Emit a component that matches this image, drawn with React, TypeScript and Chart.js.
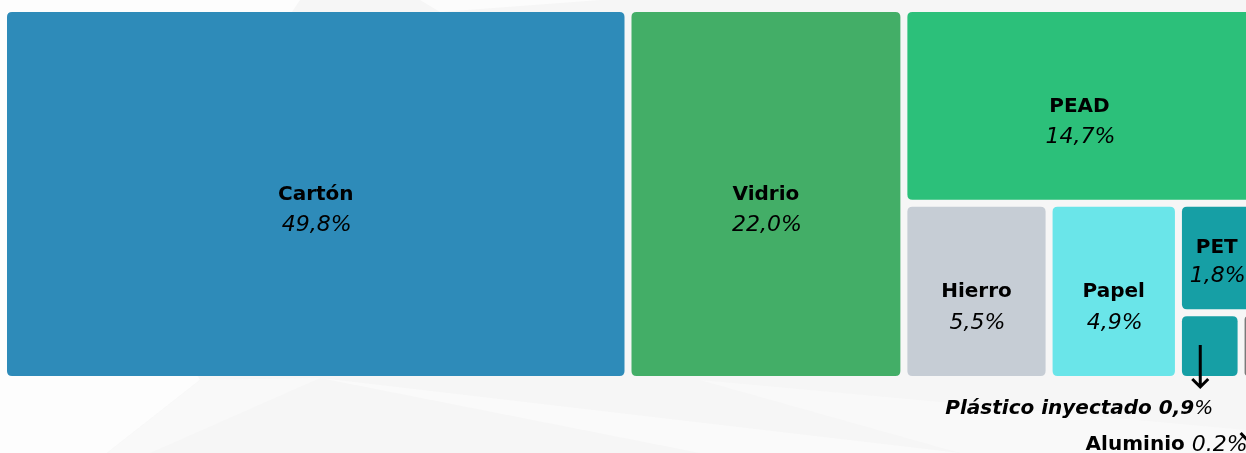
import React, { useEffect, useRef } from "react";
import { Chart, registerables } from "chart.js";

Chart.register(...registerables);

// ---- data ----
const categories = ["Cartón", "Vidrio", "PEAD", "Hierro", "Papel", "PET", "Plástico inyectado", "Aluminio"];
const shares = [49.8, 22.0, 14.7, 5.5, 4.9, 1.8, 0.9, 0.2];
const shareLabels = ["49,8%", "22,0%", "14,7%", "5,5%", "4,9%", "1,8%", "0,9%", "0.2%"];
const cellColors = ["#2e8bb9", "#43ae67", "#2cc07a", "#c6cdd5", "#6ae5e9", "#169fa5", "#169fa5", "#7a7a7a"];

type R = { x: number; y: number; w: number; h: number };

function squarify(values: number[], rect: R, kx: number, ky: number): R[] {
  const total = values.reduce((a, b) => a + b, 0);
  const areaScale = (rect.w * rect.h) / total;
  const out: R[] = [];
  let r = { ...rect };
  let i = 0;
  const worst = (row: number[], rr: R, horiz: boolean) => {
    const s = row.reduce((a, b) => a + b, 0) * areaScale;
    let m = 0;
    if (horiz) {
      const h = s / rr.w;
      for (const v of row) {
        const w = (v * areaScale) / h;
        const a = (w * kx) / (h * ky);
        m = Math.max(m, a, 1 / a);
      }
    } else {
      const w = s / rr.h;
      for (const v of row) {
        const h = (v * areaScale) / w;
        const a = (w * kx) / (h * ky);
        m = Math.max(m, a, 1 / a);
      }
    }
    return m;
  };
  while (i < values.length) {
    const horiz = r.w * kx < r.h * ky;
    let row = [values[i]];
    let best = worst(row, r, horiz);
    let j = i + 1;
    while (j < values.length) {
      const cand = row.concat(values[j]);
      const w2 = worst(cand, r, horiz);
      if (w2 > best) break;
      row = cand;
      best = w2;
      j++;
    }
    const rowArea = row.reduce((a, b) => a + b, 0) * areaScale;
    if (horiz) {
      const h = rowArea / r.w;
      let x = r.x;
      for (const v of row) {
        const w = (v * areaScale) / h;
        out.push({ x, y: r.y, w, h });
        x += w;
      }
      r = { x: r.x, y: r.y + h, w: r.w, h: r.h - h };
    } else {
      const w = rowArea / r.h;
      let y = r.y;
      for (const v of row) {
        const h = (v * areaScale) / w;
        out.push({ x: r.x, y, w, h });
        y += h;
      }
      r = { x: r.x + w, y: r.y, w: r.w - w, h: r.h };
    }
    i = j;
  }
  return out;
}

function roundRect(ctx: CanvasRenderingContext2D, x: number, y: number, w: number, h: number, rad: number) {
  const r = Math.min(rad, w / 2, h / 2);
  ctx.beginPath();
  ctx.moveTo(x + r, y);
  ctx.lineTo(x + w - r, y);
  ctx.quadraticCurveTo(x + w, y, x + w, y + r);
  ctx.lineTo(x + w, y + h - r);
  ctx.quadraticCurveTo(x + w, y + h, x + w - r, y + h);
  ctx.lineTo(x + r, y + h);
  ctx.quadraticCurveTo(x, y + h, x, y + h - r);
  ctx.lineTo(x, y + r);
  ctx.quadraticCurveTo(x, y, x + r, y);
  ctx.closePath();
}

const backgroundPlugin = {
  id: "bgShapes",
  beforeDraw(chart: any) {
    const { ctx, width, height } = chart;
    ctx.save();
    ctx.fillStyle = "#f6f6f6";
    ctx.fillRect(0, 0, width, height);
    const poly = (pts: number[][], c: string) => {
      ctx.beginPath();
      ctx.moveTo(pts[0][0], pts[0][1]);
      for (let k = 1; k < pts.length; k++) ctx.lineTo(pts[k][0], pts[k][1]);
      ctx.closePath();
      ctx.fillStyle = c;
      ctx.fill();
    };
    poly([[0, 0], [300, 0], [0, 453]], "#fdfdfd");
    poly([[0, 0], [200, 380], [107, 453], [0, 453]], "#fdfdfd");
    poly([[200, 380], [320, 378], [150, 453], [107, 453]], "#f9f9f9");
    poly([[320, 378], [960, 453], [700, 453]], "#fafafa");
    poly([[420, 0], [600, 0], [440, 12]], "#fcfcfc");
    poly([[700, 380], [1246, 430], [1246, 453], [960, 453]], "#f9f9f9");
    ctx.restore();
  },
};

const treemapPlugin = {
  id: "treemapCells",
  afterDatasetsDraw(chart: any) {
    const { ctx, chartArea } = chart;
    const xs = chart.scales.x;
    const ys = chart.scales.y;
    const kx = chartArea.width / (xs.max - xs.min);
    const ky = chartArea.height / (ys.max - ys.min);
    const rects = squarify(shares, { x: xs.min, y: ys.min, w: xs.max - xs.min, h: ys.max - ys.min }, kx, ky);
    const gap = 3.5;
    const px: { l: number; t: number; r: number; b: number }[] = [];
    ctx.save();
    rects.forEach((rc, i) => {
      const l = xs.getPixelForValue(rc.x) + gap;
      const r = xs.getPixelForValue(rc.x + rc.w) - gap;
      const t = ys.getPixelForValue(rc.y) + gap;
      const b = ys.getPixelForValue(rc.y + rc.h) - gap;
      px.push({ l, t, r, b });
      roundRect(ctx, l, t, r - l, b - t, 5);
      ctx.fillStyle = cellColors[i];
      ctx.fill();
    });
    // inside labels
    ctx.fillStyle = "#000";
    ctx.textAlign = "center";
    ctx.textBaseline = "middle";
    px.forEach((p, i) => {
      const w = p.r - p.l;
      const h = p.b - p.t;
      if (w < 60 || h < 80) return;
      const cx = (p.l + p.r) / 2;
      let cy = (p.t + p.b) / 2 + 0.5;
      let dv = 31;
      if (h < 110) {
        cy -= 11;
        dv = 29;
      }
      ctx.font = "bold 20px 'DejaVu Sans'";
      ctx.fillText(categories[i], cx, cy);
      ctx.font = "italic 22px 'DejaVu Sans'";
      ctx.fillText(shareLabels[i], cx + 1, cy + dv);
    });
    // annotation: Plástico inyectado
    const pi = px[6];
    if (pi) {
      const ax = (pi.l + pi.r) / 2 - 9.5;
      const y0 = pi.b - 31;
      const y1 = pi.b + 11;
      ctx.strokeStyle = "#000";
      ctx.lineWidth = 3;
      ctx.beginPath();
      ctx.moveTo(ax, y0);
      ctx.lineTo(ax, y1);
      ctx.moveTo(ax - 8, y1 - 8);
      ctx.lineTo(ax, y1);
      ctx.lineTo(ax + 8, y1 - 8);
      ctx.stroke();
      const ty = pi.b + 33;
      ctx.textAlign = "left";
      ctx.font = "italic 20px 'DejaVu Sans'";
      const wPct = ctx.measureText("%").width;
      ctx.font = "italic bold 20px 'DejaVu Sans'";
      const main = categories[6] + " " + shareLabels[6].replace("%", "");
      const wMain = ctx.measureText(main).width;
      const right = ax + 13;
      ctx.fillText(main, right - wPct - wMain, ty);
      ctx.font = "italic 20px 'DejaVu Sans'";
      ctx.fillText("%", right - wPct, ty);
    }
    // annotation: Aluminio
    const al = px[7];
    if (al) {
      const ty = al.b + 69;
      ctx.font = "italic 22px 'DejaVu Sans'";
      const wv = ctx.measureText(shareLabels[7]).width;
      ctx.font = "bold 20px 'DejaVu Sans'";
      const nm = categories[7] + " ";
      const wn = ctx.measureText(nm).width;
      const right = al.l + 3;
      ctx.textAlign = "left";
      ctx.fillText(nm, right - wv - wn, ty);
      ctx.font = "italic 22px 'DejaVu Sans'";
      ctx.fillText(shareLabels[7], right - wv, ty);
      ctx.lineWidth = 3;
      ctx.beginPath();
      ctx.moveTo(al.l - 4, al.b + 57);
      ctx.lineTo(al.l + 14, al.b + 76);
      ctx.stroke();
    }
    ctx.restore();
  },
};

export default function App() {
  const ref = useRef<HTMLCanvasElement | null>(null);
  useEffect(() => {
    if (!ref.current) return;
    const chart = new Chart(ref.current, {
      type: "scatter",
      data: {
        datasets: [
          {
            label: "Composición",
            data: shares.map((v, i) => ({ x: i, y: v })),
            pointRadius: 0,
            pointHoverRadius: 0,
          },
        ],
      },
      options: {
        animation: false,
        responsive: false,
        devicePixelRatio: 1,
        layout: { padding: { left: 3.5, top: 8.5, right: 15, bottom: 73.5 } },
        scales: {
          x: { type: "linear", min: 0, max: 100, display: false },
          y: { type: "linear", min: 0, max: 100, reverse: true, display: false },
        },
        plugins: { legend: { display: false }, tooltip: { enabled: false } },
        events: [],
      },
      plugins: [backgroundPlugin, treemapPlugin],
    });
    return () => chart.destroy();
  }, []);
  return (
    <div
      style={{
        position: "fixed",
        left: 0,
        top: 0,
        width: "100vw",
        height: "100vh",
        overflow: "hidden",
        background: "#f6f6f6",
      }}
    >
      <canvas ref={ref} width={1270} height={453} style={{ display: "block" }} />
    </div>
  );
}
